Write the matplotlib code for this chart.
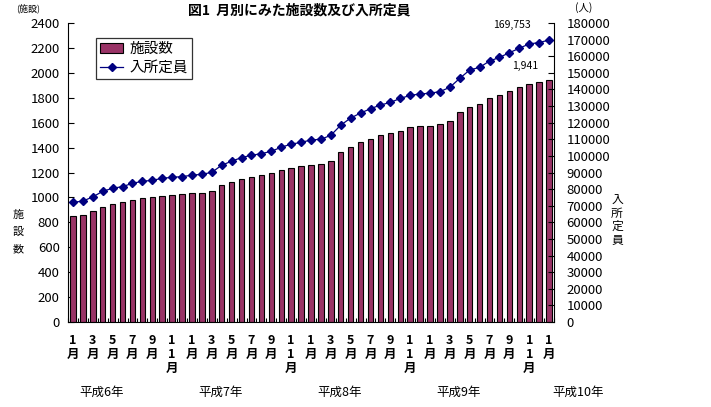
import matplotlib
matplotlib.use("Agg")
import matplotlib.pyplot as plt
import matplotlib.transforms as mtransforms
import numpy as np

plt.rcParams['font.family'] = ['Noto Sans CJK JP', 'DejaVu Sans']

# monthly data, 平成6年1月 - 平成10年1月
months = [1, 3, 5, 7, 9, 11] * 4 + [1]
years = ['平成6年', '平成7年', '平成8年', '平成9年', '平成10年']

facilities = [848, 856, 888, 921, 945, 961, 977, 993, 1001, 1009,
              1017, 1025, 1033, 1033, 1049, 1097, 1121, 1145, 1161, 1177,
              1193, 1217, 1233, 1249, 1257, 1265, 1290, 1363, 1402, 1443,
              1467, 1499, 1515, 1536, 1562, 1570, 1570, 1587, 1610, 1683,
              1724, 1747, 1795, 1820, 1853, 1884, 1908, 1924, 1941]

capacity = [72000, 72800, 75300, 78700, 80500, 81500, 83500, 84700, 85300, 86500,
            87100, 87500, 88400, 88900, 90100, 94400, 96800, 99000, 100400, 101300,
            102800, 105200, 107100, 108100, 109600, 110000, 112400, 118500, 122800, 125800,
            128400, 130600, 132200, 134600, 136400, 137300, 137700, 138700, 141300, 146700,
            151700, 153300, 157100, 159300, 162100, 164800, 167400, 168200, 169753]

bar_color = '#993366'
line_color = '#000080'

x = np.arange(len(facilities))

fig = plt.figure(figsize=(7.11, 4.07), dpi=100)
ax = fig.add_axes([68 / 711, 1 - 322 / 407, 486 / 711, 299 / 407])
ax2 = ax.twinx()

bars = ax.bar(x, facilities, width=0.55, color=bar_color, edgecolor='black',
              linewidth=0.8, label='施設数', zorder=2)
line, = ax2.plot(x, capacity, color=line_color, linewidth=0.9, marker='D',
                 markersize=4.3, label='入所定員', zorder=3)

ax.set_xlim(-0.5, len(x) - 0.5)
ax.set_ylim(0, 2400)
ax.set_yticks(np.arange(0, 2401, 200))
ax2.set_ylim(0, 180000)
ax2.set_yticks(np.arange(0, 180001, 10000))

ax.set_xticks(x[::2])
ax.set_xticklabels(['\n'.join(list(str(m))) + '\n月' for m in months],
                   fontsize=9, fontweight='bold', linespacing=1.05)
ax.set_xticks(np.arange(len(x) + 1) - 0.5, minor=True)
ax.tick_params(axis='x', which='major', length=0, pad=9)
ax.tick_params(axis='x', which='minor', direction='in', length=3, width=0.8)
ax.tick_params(axis='y', direction='in', length=4, width=0.8, labelsize=9.5, pad=6)
ax2.tick_params(axis='y', direction='in', length=4, width=0.8, labelsize=9.5, pad=9)
for lab in ax2.get_yticklabels():
    lab.set_horizontalalignment('left')

for a in (ax, ax2):
    a.spines['top'].set_visible(False)
ax.spines['right'].set_visible(False)
for s in ('left', 'bottom'):
    ax.spines[s].set_linewidth(0.8)
ax2.spines['right'].set_linewidth(0.8)
ax2.spines['left'].set_visible(False)
ax2.spines['bottom'].set_visible(False)

# year labels under the month ticks
trans = mtransforms.blended_transform_factory(ax.transData, ax.transAxes)
for i, yl in enumerate(years):
    ax.text(2.9 + 12 * i, -0.235, yl, transform=trans, ha='center', va='center',
            fontsize=9)

# value labels on last points
ax2.annotate('169,753', (x[-1], capacity[-1]), xytext=(-27, 11),
             textcoords='offset points', ha='center', va='center', fontsize=7.5)
ax.annotate('1,941', (x[-1], facilities[-1]), xytext=(-17, 10),
            textcoords='offset points', ha='center', va='center', fontsize=7.5)

leg = ax.legend(handles=[bars, line], loc='upper left',
                bbox_to_anchor=(0.057, 0.95), fontsize=10.5, frameon=True,
                fancybox=False, edgecolor='black', borderpad=0.3,
                handlelength=1.6, handletextpad=0.4, labelspacing=0.3,
                borderaxespad=0)
leg.get_frame().set_linewidth(0.9)
leg.set_zorder(5)

fig.text(299 / 711, 1 - 10 / 407, '図1  月別にみた施設数及び入所定員',
         ha='center', va='center', fontsize=10, fontweight='bold')
fig.text(28 / 711, 1 - 8 / 407, '(施設)', ha='center', va='center', fontsize=6.5)
fig.text(584 / 711, 1 - 8 / 407, '(人)', ha='center', va='center', fontsize=7.5)
fig.text(18 / 711, 1 - 232 / 407, '施\n設\n数', ha='center', va='center',
         fontsize=8, linespacing=1.9)
fig.text(617 / 711, 1 - 220 / 407, '入\n所\n定\n員', ha='center', va='center',
         fontsize=8.5, linespacing=1.05)

fig.savefig('out.png', dpi=100)
